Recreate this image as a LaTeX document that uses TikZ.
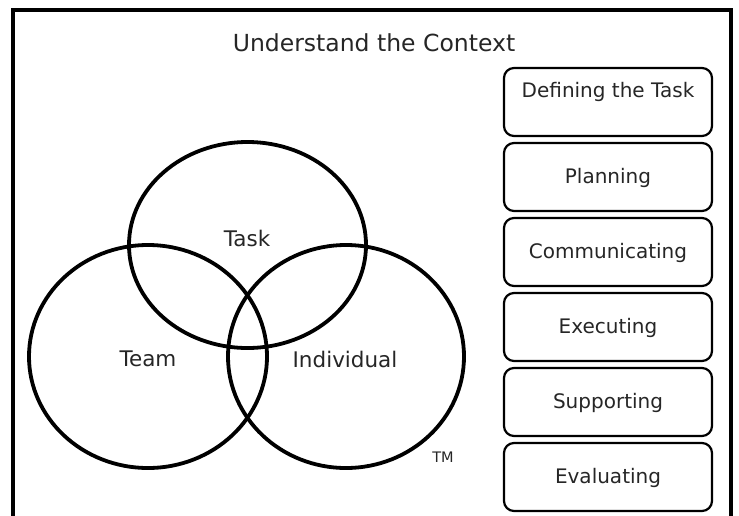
\documentclass[tikz,border=0pt]{standalone}
\usepackage{fontspec}
\setmainfont{DejaVu Sans}
\usetikzlibrary{shapes.geometric}
\tikzset{
  frame/.style={line width=3.5pt},
  venn/.style={ellipse, draw, line width=3.8pt, inner sep=0pt},
  stagebox/.style={draw, line width=2.2pt, rounded corners=10pt, minimum width=208pt, minimum height=68pt, inner sep=0pt},
  boxtext/.style={text=black!85, font=\fontsize{20}{24}\selectfont, inner sep=0pt},
  venntext/.style={text=black!85, font=\fontsize{21.5}{25}\selectfont, inner sep=0pt},
}
\begin{document}
\begin{tikzpicture}[x=1pt,y=-1pt]
\useasboundingbox (0,0) rectangle (739,515);
\fill[white] (0,0) rectangle (739,515);
\draw[frame] (13,517) |- (731,10) -- (731,517);
\node[text=black!85, font=\fontsize{23.5}{28}\selectfont, inner sep=0pt] (title) at (374,43) {Understand the Context};
% venn
\node[venn, minimum width=237pt, minimum height=206pt] (task) at (247.5,245) {};
\node[venn, minimum width=238pt, minimum height=223pt] (team) at (148,356.5) {};
\node[venn, minimum width=236pt, minimum height=223pt] (ind) at (346,356.5) {};
\node[venntext] (tasklbl) at (247,238) {Task};
\node[venntext] (teamlbl) at (148,359) {Team};
\node[venntext] (indlbl) at (345,359) {Individual};
\node[text=black!85, font=\fontsize{14.5}{17}\selectfont, inner sep=0pt] (tm) at (443,457) {TM};
% boxes
\node[stagebox] (b1) at (608,102) {};
\node[boxtext] (t1) at (608,92) {Defining the Task};
\node[stagebox] (b2) at (608,177) {};
\node[boxtext] (t2) at (608,178) {Planning};
\node[stagebox] (b3) at (608,252) {};
\node[boxtext] (t3) at (608,253) {Communicating};
\node[stagebox] (b4) at (608,327) {};
\node[boxtext] (t4) at (608,328) {Executing};
\node[stagebox] (b5) at (608,402) {};
\node[boxtext] (t5) at (608,403) {Supporting};
\node[stagebox] (b6) at (608,477) {};
\node[boxtext] (t6) at (608,478) {Evaluating};
\end{tikzpicture}
\end{document}
